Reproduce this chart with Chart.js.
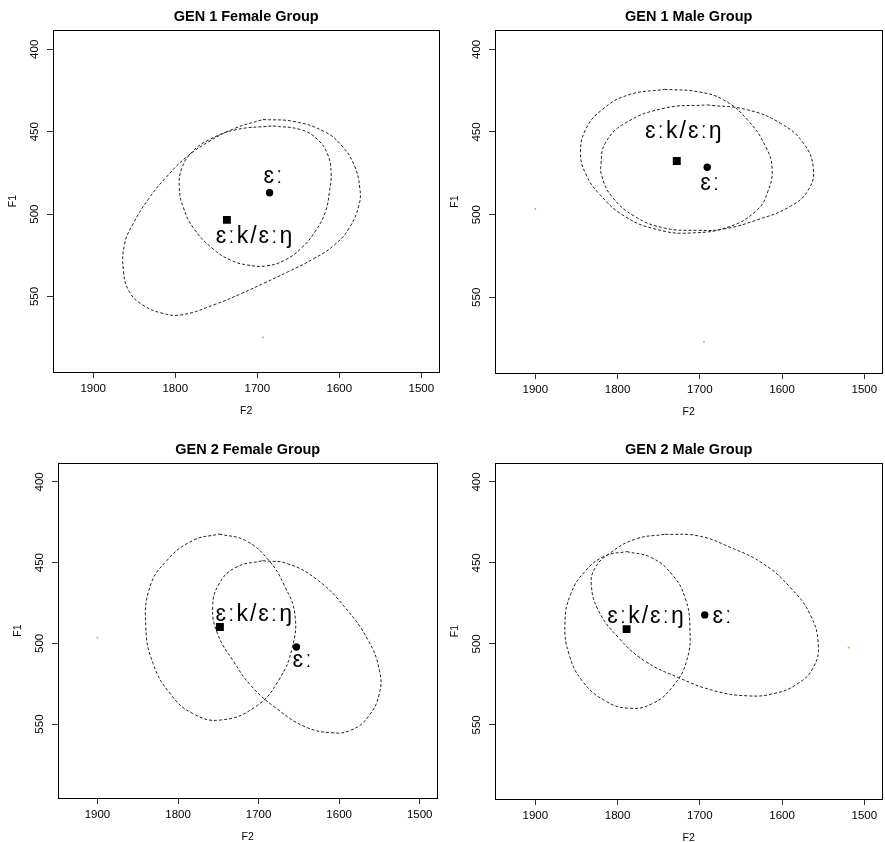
<!DOCTYPE html>
<html>
<head>
<meta charset="utf-8">
<script src="https://cdn.jsdelivr.net/npm/chart.js@4.4.1/dist/chart.umd.min.js"></script>
<style>
html, body { margin: 0; padding: 0; background: #fff; overflow: hidden; }
body { width: 885px; height: 842px; position: relative; }
canvas { position: absolute; }
</style>
</head>
<body>
<script>
// axes
var xTicks = [1900, 1800, 1700, 1600, 1500];
var yTicks = [400, 450, 500, 550];
var f2Limits = [1478, 1949];
var f1Limits = [388.3, 595.8];

var panelTitles = ['GEN 1 Female Group', 'GEN 1 Male Group', 'GEN 2 Female Group', 'GEN 2 Male Group'];
var groupLabels = ['ɛːk/ɛːŋ', 'ɛː'];

// group means, one value per panel (G1 F, G1 M, G2 F, G2 M)
var ekMeanF2 = [1737, 1728, 1748, 1789];
var ekMeanF1 = [503.5, 467.6, 489.9, 490.9];
var eMeanF2 = [1685, 1691, 1653, 1694];
var eMeanF1 = [487, 471.3, 502.3, 482.1];

// where the group labels sit (F2, F1)
var ekLabelF2 = [1704, 1720, 1706, 1766];
var ekLabelF1 = [513.5, 449.5, 482, 483];
var eLabelF2 = [1681, 1688, 1646, 1673];
var eLabelF1 = [477.2, 481, 510.5, 483];

// ellipse outlines
var g1fEkF2 = [1693, 1654, 1618, 1598, 1582, 1575, 1576, 1588, 1606, 1630, 1662, 1691, 1719, 1751, 1792, 1816, 1840, 1856, 1863, 1862, 1852, 1832, 1812, 1788, 1759, 1727];
var g1fEkF1 = [442.6, 443.9, 450.0, 458.0, 470.1, 484.3, 494.4, 508.5, 518.7, 526.7, 534.9, 541.7, 548.1, 554.7, 561.1, 560.1, 555.0, 547.0, 534.9, 518.7, 506.5, 490.4, 478.2, 466.1, 456.0, 447.9];
var g1fEF2 = [1681, 1646, 1626, 1614, 1610, 1612, 1617, 1629, 1646, 1666, 1689, 1713, 1733, 1754, 1777, 1790, 1795, 1792, 1779, 1759, 1727];
var g1fEF1 = [446.5, 448.9, 455.0, 464.1, 475.2, 486.3, 498.6, 510.2, 520.5, 527.8, 531.4, 530.8, 527.8, 521.1, 509.0, 496.2, 484.3, 472.2, 462.1, 455.0, 448.9];

var g1mEkF2 = [1743, 1703, 1671, 1642, 1620, 1612, 1618, 1630, 1663, 1711, 1751, 1791, 1823, 1839, 1845, 1839, 1819, 1787];
var g1mEkF1 = [424.2, 425.6, 430.6, 442.7, 458.8, 472.9, 487.0, 497.0, 507.1, 511.1, 509.1, 501.1, 487.0, 475.0, 462.8, 448.7, 436.6, 427.6];
var g1mEF2 = [1691, 1642, 1602, 1574, 1562, 1568, 1590, 1630, 1671, 1703, 1743, 1779, 1807, 1819, 1820, 1815, 1791, 1743];
var g1mEF1 = [433.6, 436.6, 444.7, 456.8, 471.9, 485.0, 495.0, 503.1, 508.7, 509.5, 508.1, 501.1, 489.0, 476.9, 468.8, 456.8, 444.7, 435.6];

var g2fEkF2 = [1749, 1716, 1687, 1667, 1655, 1658, 1675, 1704, 1747, 1782, 1810, 1831, 1840, 1835, 1814, 1782];
var g2fEkF1 = [432.3, 436.4, 448.8, 465.2, 481.7, 502.3, 522.8, 539.3, 547.5, 543.4, 531.0, 512.5, 489.9, 465.2, 448.8, 436.4];
var g2fEF2 = [1695, 1663, 1626, 1593, 1564, 1550, 1550, 1564, 1585, 1609, 1642, 1675, 1708, 1732, 1751, 1757, 1749, 1728];
var g2fEF1 = [448.8, 450.8, 461.1, 477.6, 498.1, 516.7, 531.0, 545.5, 553.7, 555.4, 551.7, 541.4, 527.0, 510.5, 494.0, 477.6, 463.1, 452.9];

var g2mEkF2 = [1789, 1759, 1734, 1718, 1712, 1716, 1734, 1759, 1787, 1815, 1843, 1859, 1864, 1857, 1839, 1815];
var g2mEkF1 = [443.0, 446.7, 457.0, 471.4, 489.9, 510.5, 527.0, 537.2, 539.7, 535.2, 522.8, 506.4, 487.8, 469.3, 454.9, 445.7];
var g2mEF2 = [1742, 1702, 1662, 1622, 1590, 1566, 1556, 1562, 1582, 1610, 1642, 1682, 1726, 1767, 1799, 1823, 1832, 1827, 1811, 1779];
var g2mEF1 = [432.3, 433.3, 440.6, 450.8, 465.2, 481.7, 500.2, 514.6, 524.9, 530.7, 532.1, 529.0, 520.8, 510.5, 496.1, 479.6, 463.1, 452.9, 444.6, 435.4];

// stray single tokens visible as tiny specks
var strayF2 = [[1693], [1900, 1695], [1900], [1519]];
var strayF1 = [[574.7], [496.6, 576.9], [496.5], [502.3]];
var strayColors = [['#8fd36a'], ['#f0a050', '#8fd36a'], ['#f0a050'], ['#f0a050']];

var ekOutlinesF2 = [g1fEkF2, g1mEkF2, g2fEkF2, g2mEkF2];
var ekOutlinesF1 = [g1fEkF1, g1mEkF1, g2fEkF1, g2mEkF1];
var eOutlinesF2 = [g1fEF2, g1mEF2, g2fEF2, g2mEF2];
var eOutlinesF1 = [g1fEF1, g1mEF1, g2fEF1, g2mEF1];

// canvas placement; plot box = canvas minus 50 left, 30 top, 49 bottom, 2 right
var panels = [
    { left: 3, top: 0, w: 442, h: 421 },
    { left: 445, top: 0, w: 443, h: 422 },
    { left: 8, top: 433, w: 435, h: 414 },
    { left: 445, top: 433, w: 443, h: 415 }
];

var fontFamily = '"Liberation Sans", Arial, Helvetica, sans-serif';

function outline(f2, f1) {
    var pts = f2.map(function (v, k) { return { x: v, y: f1[k] }; });
    pts.push(pts[0]);
    return pts;
}

var boxPlugin = {
    id: 'plotBox',
    afterDraw: function (chart) {
        var a = chart.chartArea;
        var ctx = chart.ctx;
        ctx.save();
        ctx.strokeStyle = '#000';
        ctx.lineWidth = 1;
        ctx.strokeRect(Math.round(a.left) + 0.5, Math.round(a.top) + 0.5,
            Math.round(a.right - a.left), Math.round(a.bottom - a.top));
        ctx.restore();
    }
};

function labelPlugin(i) {
    return {
        id: 'vowelLabels',
        afterDatasetsDraw: function (chart) {
            var ctx = chart.ctx;
            var xs = chart.scales.x;
            var ys = chart.scales.y;
            ctx.save();
            ctx.font = '23px "Liberation Sans", "DejaVu Sans", sans-serif';
            ctx.letterSpacing = '2px';
            ctx.fillStyle = '#000';
            ctx.textAlign = 'center';
            ctx.textBaseline = 'middle';
            ctx.fillText(groupLabels[0], xs.getPixelForValue(ekLabelF2[i]) + 1, ys.getPixelForValue(ekLabelF1[i]));
            ctx.fillText(groupLabels[1], xs.getPixelForValue(eLabelF2[i]) + 1, ys.getPixelForValue(eLabelF1[i]));
            ctx.restore();
        }
    };
}

function plainNumber(v) {
    return String(v);
}

function makePanel(i) {
    var p = panels[i];
    var canvas = document.createElement('canvas');
    canvas.width = p.w;
    canvas.height = p.h;
    canvas.style.left = p.left + 'px';
    canvas.style.top = p.top + 'px';
    document.body.appendChild(canvas);

    var tickGrid = { display: true, drawOnChartArea: false, drawTicks: true, tickLength: 6, color: '#333', lineWidth: 1 };

    new Chart(canvas.getContext('2d'), {
        type: 'scatter',
        data: {
            datasets: [
                {
                    label: groupLabels[0],
                    data: outline(ekOutlinesF2[i], ekOutlinesF1[i]),
                    showLine: true,
                    tension: 0.45,
                    borderColor: '#222',
                    borderWidth: 1,
                    borderDash: [3, 2],
                    pointRadius: 0,
                    fill: false
                },
                {
                    label: groupLabels[1],
                    data: outline(eOutlinesF2[i], eOutlinesF1[i]),
                    showLine: true,
                    tension: 0.45,
                    borderColor: '#222',
                    borderWidth: 1,
                    borderDash: [3, 2],
                    pointRadius: 0,
                    fill: false
                },
                {
                    data: strayF2[i].map(function (v, k) { return { x: v, y: strayF1[i][k] }; }),
                    pointRadius: 1,
                    pointBackgroundColor: strayColors[i],
                    pointBorderWidth: 0
                },
                {
                    data: [{ x: ekMeanF2[i], y: ekMeanF1[i] }],
                    pointStyle: 'rect',
                    pointRadius: 5.6,
                    pointBackgroundColor: '#000',
                    pointBorderWidth: 0
                },
                {
                    data: [{ x: eMeanF2[i], y: eMeanF1[i] }],
                    pointStyle: 'circle',
                    pointRadius: 3.7,
                    pointBackgroundColor: '#000',
                    pointBorderWidth: 0
                }
            ]
        },
        options: {
            responsive: false,
            animation: false,
            events: [],
            layout: { padding: { left: 0, top: 0, right: 2, bottom: 0 } },
            scales: {
                x: {
                    type: 'linear',
                    reverse: true,
                    min: f2Limits[0],
                    max: f2Limits[1],
                    afterBuildTicks: function (s) { s.ticks = xTicks.map(function (v) { return { value: v }; }); },
                    afterFit: function (s) { s.height = 49; },
                    grid: tickGrid,
                    border: { display: false },
                    ticks: { maxRotation: 0, padding: 4, color: '#000', font: { family: fontFamily, size: 11.5 }, callback: plainNumber },
                    title: { display: true, text: 'F2', color: '#000', font: { family: fontFamily, size: 10.5 }, padding: { top: 0, bottom: 4 } }
                },
                y: {
                    type: 'linear',
                    reverse: true,
                    min: f1Limits[0],
                    max: f1Limits[1],
                    afterBuildTicks: function (s) { s.ticks = yTicks.map(function (v) { return { value: v }; }); },
                    afterFit: function (s) { s.width = 50; },
                    grid: tickGrid,
                    border: { display: false },
                    ticks: { minRotation: 90, maxRotation: 90, crossAlign: 'center', padding: 2.5, color: '#000', font: { family: fontFamily, size: 11.5 }, callback: plainNumber },
                    title: { display: true, text: 'F1', color: '#000', font: { family: fontFamily, size: 10.5 }, padding: { top: 3.7, bottom: 0 } }
                }
            },
            plugins: {
                legend: { display: false },
                tooltip: { enabled: false },
                title: {
                    display: true,
                    text: panelTitles[i],
                    fullSize: false,
                    color: '#000',
                    font: { family: fontFamily, size: 14.5, weight: 'bold', lineHeight: 1.2 },
                    padding: { top: 8.6, bottom: 4 }
                }
            }
        },
        plugins: [boxPlugin, labelPlugin(i)]
    });
}

for (var i = 0; i < panels.length; i++) {
    makePanel(i);
}
</script>
</body>
</html>
